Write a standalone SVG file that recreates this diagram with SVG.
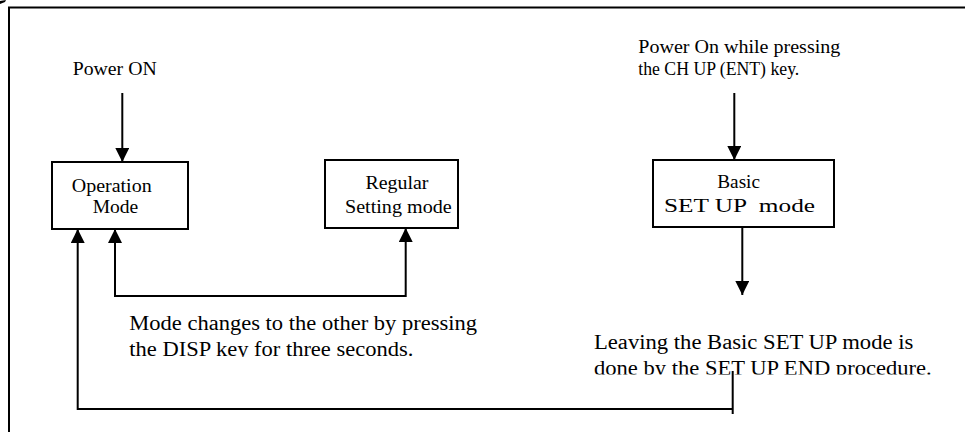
<svg xmlns="http://www.w3.org/2000/svg" width="969" height="432" viewBox="0 0 969 432">
<style>
  text { font-family: "Liberation Serif", "Times New Roman", serif; fill: #000; }
  .lbl { font-size: 18px; }
  .note { font-size: 20px; }
  .box { fill: #fff; stroke: #000; stroke-width: 2; }
  .wire { fill: none; stroke: #000; stroke-width: 2; }
  .frame { fill: none; stroke: #000; stroke-width: 2; }
</style>
<defs>
  <marker id="arrow" markerUnits="userSpaceOnUse" markerWidth="14" markerHeight="14" refX="14" refY="7" orient="auto-start-reverse">
    <path d="M0,0 L14,7 L0,14 z" fill="#000"/>
  </marker>
  <clipPath id="clipDisp"><rect x="100" y="300" width="420" height="57"/></clipPath>
  <clipPath id="clipLeave"><rect x="580" y="320" width="380" height="54.5"/></clipPath>
</defs>
<rect width="969" height="432" fill="#fff"/>
<path d="M0,1 L6,0 L5,2 L0,4 z" fill="#000"/>
<path class="frame" d="M9,432 V7.5 H965"/>

<g id="power-on-label">
  <text class="lbl" x="72.7" y="75" textLength="84" lengthAdjust="spacingAndGlyphs">Power ON</text>
</g>
<g id="power-on-while-label">
  <text class="lbl" x="638.3" y="53.3" textLength="202" lengthAdjust="spacingAndGlyphs">Power On while pressing</text>
  <text class="lbl" x="638.3" y="75" textLength="161" lengthAdjust="spacingAndGlyphs">the CH UP (ENT) key.</text>
</g>

<g id="operation-mode">
  <rect class="box" x="52" y="162" width="136" height="67"/>
  <text class="lbl" x="71.7" y="191.5" textLength="80" lengthAdjust="spacingAndGlyphs">Operation</text>
  <text class="lbl" x="92.7" y="213" textLength="45.6" lengthAdjust="spacingAndGlyphs">Mode</text>
</g>
<g id="regular-setting-mode">
  <rect class="box" x="325" y="160" width="133" height="68"/>
  <text class="lbl" x="365.5" y="189" textLength="63" lengthAdjust="spacingAndGlyphs">Regular</text>
  <text class="lbl" x="345" y="212.7" textLength="106.7" lengthAdjust="spacingAndGlyphs">Setting mode</text>
</g>
<g id="basic-setup-mode">
  <rect class="box" x="653" y="160" width="181" height="67"/>
  <text class="lbl" x="717.3" y="188.3" textLength="42.7" lengthAdjust="spacingAndGlyphs">Basic</text>
  <text class="lbl" x="664" y="212.3" textLength="151" lengthAdjust="spacingAndGlyphs" xml:space="preserve">SET UP  mode</text>
</g>

<g id="disp-note" clip-path="url(#clipDisp)">
  <text class="note" x="129.3" y="330" textLength="347.7" lengthAdjust="spacingAndGlyphs">Mode changes to the other by pressing</text>
  <text class="note" x="129.3" y="356" textLength="284" lengthAdjust="spacingAndGlyphs">the DISP key for three seconds.</text>
</g>
<g id="leave-note" clip-path="url(#clipLeave)">
  <text class="note" x="594" y="348.5" textLength="319.3" lengthAdjust="spacingAndGlyphs">Leaving the Basic SET UP mode is</text>
  <text class="note" x="594" y="374.5" textLength="337.7" lengthAdjust="spacingAndGlyphs">done by the SET UP END procedure.</text>
</g>

<g id="connectors">
  <path class="wire" d="M122.3,93 V162" marker-end="url(#arrow)"/>
  <path class="wire" d="M734.3,93 V160" marker-end="url(#arrow)"/>
  <path class="wire" d="M742.3,227 V295" marker-end="url(#arrow)"/>
  <path class="wire" d="M115,229 V296 H405.7 V228" marker-start="url(#arrow)" marker-end="url(#arrow)"/>
  <path class="wire" d="M732.7,371 V414 M732.7,409 H77.7 V229" marker-end="url(#arrow)"/>
</g>
</svg>
